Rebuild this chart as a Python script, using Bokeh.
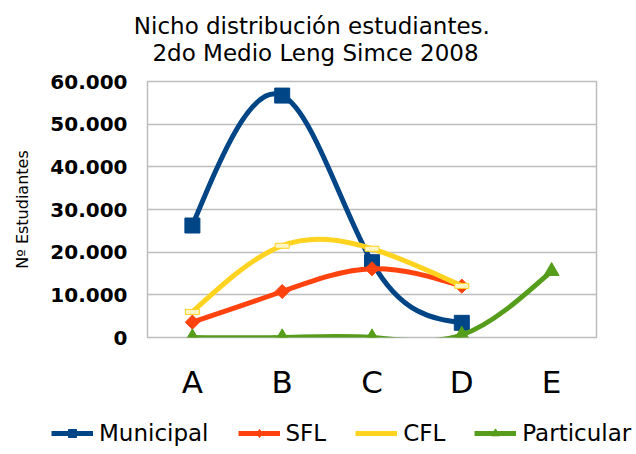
import numpy as np
from bokeh.plotting import figure
from bokeh.layouts import column
from bokeh.models import Range1d, FixedTicker, Label, Legend, LegendItem, ColumnDataSource
from bokeh.embed import file_html
from bokeh.resources import INLINE

title_lines = ["Nicho distribución  estudiantes.", "2do Medio Leng Simce 2008"]
y_axis_label = "Nº Estudiantes"
categories = ["A", "B", "C", "D", "E"]
y_ticks = [0, 10000, 20000, 30000, 40000, 50000, 60000]
y_tick_labels = ["0", "10.000", "20.000", "30.000", "40.000", "50.000", "60.000"]

series_names = ["Municipal", "SFL", "CFL", "Particular"]
municipal = [26250, 56700, 17650, 3440]
sfl = [3600, 10780, 16100, 12030]
cfl = [6000, 21500, 20800, 12100]
particular = [0, 0, 0, 600, 15550]

colors = ["#004586", "#ff420e", "#ffd320", "#579d1c"]
FONT = "DejaVu Sans"
W = 636


def natural_bezier(xs, ys):
    xs = np.asarray(xs, float)
    ys = np.asarray(ys, float)
    n = len(ys)
    h = np.diff(xs)
    A = np.zeros((n, n))
    r = np.zeros(n)
    A[0, 0] = 1
    A[-1, -1] = 1
    for i in range(1, n - 1):
        A[i, i - 1] = h[i - 1]
        A[i, i] = 2 * (h[i - 1] + h[i])
        A[i, i + 1] = h[i]
        r[i] = 6 * ((ys[i + 1] - ys[i]) / h[i] - (ys[i] - ys[i - 1]) / h[i - 1])
    M = np.linalg.solve(A, r)
    slope = (ys[1:] - ys[:-1]) / h
    d0 = slope - h * (2 * M[:-1] + M[1:]) / 6
    d1 = slope + h * (M[:-1] + 2 * M[1:]) / 6
    return dict(x0=xs[:-1], y0=ys[:-1], x1=xs[1:], y1=ys[1:],
                cx0=xs[:-1] + h / 3, cy0=ys[:-1] + d0 * h / 3,
                cx1=xs[1:] - h / 3, cy1=ys[1:] - d1 * h / 3)


def blank_fig(h):
    f = figure(width=W, height=h, output_backend="svg", toolbar_location=None,
               x_axis_type=None, y_axis_type=None, x_range=Range1d(0, 1), y_range=Range1d(0, 1),
               min_border_left=0, min_border_right=0, min_border_top=0, min_border_bottom=0,
               frame_align=False)
    f.outline_line_color = None
    f.background_fill_color = "white"
    f.border_fill_color = "white"
    return f


# ---- title strip ----
tf = blank_fig(66)
for txt, yy in zip(title_lines, [41, 14]):
    tf.add_layout(Label(x=315, y=yy, x_units="screen", y_units="screen", text=txt,
                        text_align="center", text_baseline="alphabetic",
                        text_font=FONT, text_font_size="23px", text_color="black"))

# ---- main chart ----
p = figure(width=W, height=350, output_backend="svg", toolbar_location=None,
           x_range=Range1d(0, len(categories)), y_range=Range1d(0, 60000),
           min_border_left=147, min_border_right=40, min_border_top=15, min_border_bottom=79,
           frame_align=False)
p.background_fill_color = "white"
p.border_fill_color = "white"
p.outline_line_color = "#bdbdbd"
p.outline_line_width = 1.5

xpos = [i + 0.5 for i in range(len(categories))]

p.xaxis.ticker = FixedTicker(ticks=xpos)
p.xaxis.major_label_overrides = {x: c for x, c in zip(xpos, categories)}
p.xaxis.major_label_text_font = FONT
p.xaxis.major_label_text_font_size = "31px"
p.xaxis.major_label_text_color = "black"
p.xaxis.major_label_standoff = 20
p.xaxis.axis_line_color = None
p.xaxis.major_tick_line_color = None
p.xaxis.minor_tick_line_color = None
p.xgrid.grid_line_color = None

p.yaxis.ticker = FixedTicker(ticks=y_ticks)
p.yaxis.major_label_overrides = {t: l for t, l in zip(y_ticks, y_tick_labels)}
p.yaxis.major_label_text_font = FONT
p.yaxis.major_label_text_font_style = "bold"
p.yaxis.major_label_text_font_size = "20px"
p.yaxis.major_label_text_color = "black"
p.yaxis.major_label_standoff = 14
p.yaxis.axis_line_color = None
p.yaxis.major_tick_line_color = None
p.yaxis.minor_tick_line_color = None
p.yaxis.axis_label = y_axis_label
p.yaxis.axis_label_text_font = FONT
p.yaxis.axis_label_text_font_size = "16px"
p.yaxis.axis_label_text_font_style = "normal"
p.yaxis.axis_label_text_color = "black"
p.yaxis.axis_label_standoff = 15
p.ygrid.ticker = FixedTicker(ticks=y_ticks)
p.ygrid.grid_line_color = "#bdbdbd"
p.ygrid.grid_line_width = 1.5

all_series = [municipal, sfl, cfl, particular]
markers = ["square", "square", "cfl_rect", "triangle"]
legend_markers = ["square", "diamond", None, "triangle"]
angles = [0, np.pi / 4, 0, 0]
sizes = [15, 10, 0, 15]
legend_sizes = [15, 17, 0, 15]

# ---- legend strip ----
lf = blank_fig(38)
items = []
for name, vals, col, mk, lmk, ang, sz, lsz in zip(series_names, all_series, colors, markers,
                                                  legend_markers, angles, sizes, legend_sizes):
    xs = xpos[:len(vals)]
    src = ColumnDataSource(natural_bezier(xs, vals))
    p.bezier(x0="x0", y0="y0", x1="x1", y1="y1", cx0="cx0", cy0="cy0", cx1="cx1", cy1="cy1",
             source=src, line_color=col, line_width=5, line_cap="round")
    if mk == "cfl_rect":
        p.rect(x=xs, y=vals, width=14, height=5, width_units="screen", height_units="screen",
               fill_color="#fff6c8", line_color=col, line_width=1)
    else:
        p.scatter(x=xs, y=vals, marker=mk, size=sz, angle=ang, fill_color=col, line_color=col)
    rends = [lf.line(x=[-10, -9], y=[-10, -10], line_color=col, line_width=5)]
    if lmk is not None:
        rends.append(lf.scatter(x=[-10], y=[-10], marker=lmk, size=lsz,
                                fill_color=col, line_color=col))
    items.append(LegendItem(label=name, renderers=rends))

legend = Legend(items=items, orientation="horizontal", location=(51, 8),
                label_text_font=FONT, label_text_font_size="23px", label_text_color="black",
                background_fill_alpha=0, border_line_color=None, padding=0, margin=0,
                spacing=29, glyph_width=42, glyph_height=20, label_height=20, label_standoff=6)
lf.add_layout(legend, "center")

layout = column(tf, p, lf, spacing=0)
open("out.html", "w").write(file_html(layout, INLINE))
